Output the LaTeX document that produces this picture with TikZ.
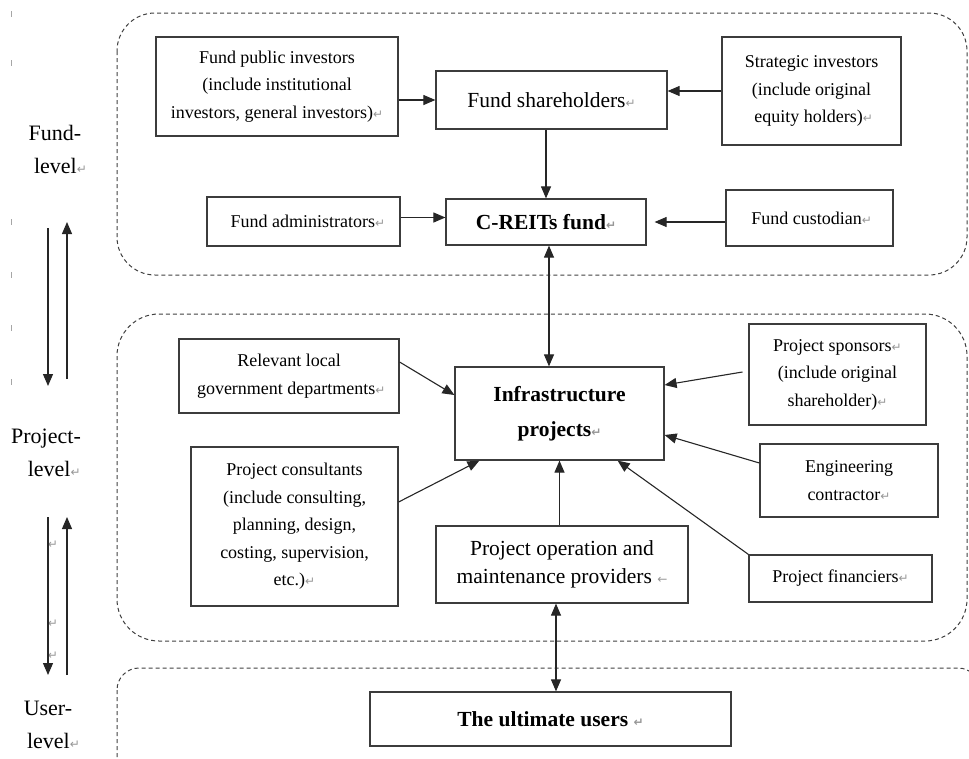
\documentclass[tikz,border=0pt]{standalone}
\usepackage{fontspec}
\setmainfont{Liberation Serif}
\newfontfamily\dejavu{DejaVu Sans}
\usetikzlibrary{arrows.meta,calc}
\definecolor{markgray}{RGB}{150,150,150}
\definecolor{linegray}{RGB}{60,60,60}
\newcommand{\smallf}{\fontsize{18}{27.5}\selectfont}
\newcommand{\bigf}{\fontsize{21.5}{28.5}\selectfont}
\newcommand{\boldf}{\fontsize{21.5}{35}\selectfont\bfseries}
\newcommand{\levelf}{\fontsize{22}{33}\selectfont}
\newcommand{\rmk}{{\color{markgray}\dejavu\fontsize{12}{12}\selectfont ↵}}
\newcommand{\lmk}{{\color{markgray}\dejavu\fontsize{12}{12}\selectfont ←}}
\tikzset{
  box/.style={draw=linegray, line width=1.2pt, inner sep=0pt, align=center, font=\smallf},
  bigbox/.style={box, font=\bigf},
  boldbox/.style={box, font=\boldf},
  lvl/.style={inner sep=0pt, align=center, font=\levelf},
  arr/.style={-{Triangle[length=12pt,width=10pt]}, line width=1.1pt, draw=black!85},
  darr/.style={{Triangle[length=12pt,width=10pt]}-{Triangle[length=12pt,width=10pt]}, line width=1.1pt, draw=black!85},
  region/.style={dash pattern=on 4pt off 3pt, draw=black!75, line width=1pt},
  rtick/.style={draw=black!35, line width=0.8pt},
  pmark/.style={inner sep=0pt}
}
\begin{document}
\begin{tikzpicture}[x=1pt,y=-1pt]
\useasboundingbox (0,0) rectangle (969,758);
\clip (0,0) rectangle (969,758);
% regions
\draw[region, rounded corners=38pt] (117,13) rectangle (967,275);
\draw[region, rounded corners=42pt] (117,314) rectangle (967,641);
\draw[region, rounded corners=22pt] (117,668) rectangle (980,800);
% ruler ticks
\foreach \ty in {14,63,222,275,328,382} \draw[rtick] (11,\ty-3) -- (11,\ty+3);
% fund level
\node[box, minimum width=242pt, minimum height=99pt] (fpi) at (277,86.5) {Fund public investors\\(include institutional\\investors, general investors)\rmk};
\node[bigbox, minimum width=231pt, minimum height=58pt] (fsh) at (551.5,100) {Fund shareholders\rmk};
\node[box, minimum width=179pt, minimum height=108pt] (si) at (811.5,91) {Strategic investors\\(include original\\\ equity holders)\rmk};
\node[box, minimum width=193pt, minimum height=49pt] (fadm) at (303.5,221.5) {\ \ Fund administrators\rmk};
\node[boldbox, minimum width=200pt, minimum height=46pt] (creits) at (546,222) {C-REITs fund\rmk};
\node[box, minimum width=167pt, minimum height=56pt] (fcus) at (809.5,218) {\ Fund custodian\rmk};
% project level
\node[box, minimum width=220pt, minimum height=74pt] (rlg) at (289,376) {Relevant local\\\ government departments\rmk};
\node[boldbox, minimum width=209pt, minimum height=93pt] (infra) at (559.5,413.5) {Infrastructure\\projects\rmk};
\node[box, minimum width=177pt, minimum height=101pt] (ps) at (837.5,374.5) {Project sponsors\rmk\\(include original\\shareholder)\rmk};
\node[box, minimum width=207pt, minimum height=159pt] (pc) at (294.5,526.5) {Project consultants\\(include consulting,\\planning, design,\\costing, supervision,\\etc.)\rmk};
\node[box, minimum width=178pt, minimum height=73pt] (ec) at (849,480.5) {Engineering\\contractor\rmk};
\node[bigbox, minimum width=252pt, minimum height=77pt] (om) at (562,564.5) {Project operation and\\maintenance providers \lmk};
\node[box, minimum width=183pt, minimum height=47pt] (pf) at (840.5,578.5) {Project financiers\rmk};
% user level
\node[boldbox, minimum width=361pt, minimum height=54pt] (users) at (550.5,719) {The ultimate users \rmk};
% level labels
\node[lvl] (lf) at (55,149) {Fund-\\\ \ level\rmk};
\node[lvl] (lp) at (46,452.5) {Project-\\\ \ \ level\rmk};
\node[lvl] (lu) at (48,725) {User-\\\ \ level\rmk};
% paragraph marks by left arrows
\node[pmark] (pm1) at (53,545) {\rmk};
\node[pmark] (pm2) at (53,624) {\rmk};
\node[pmark] (pm3) at (53,656) {\rmk};
% left arrows
\coordinate (d1s) at (48,228);
\coordinate (d1e) at (48,386);
\coordinate (u1s) at (67,379);
\coordinate (u1e) at (67,222);
\coordinate (d2s) at (48,517);
\coordinate (d2e) at (48,675);
\coordinate (u2s) at (67,675);
\coordinate (u2e) at (67,517);
\draw[arr] (d1s) -- (d1e);
\draw[arr] (u1s) -- (u1e);
\draw[arr] (d2s) -- (d2e);
\draw[arr] (u2s) -- (u2e);
% helper coordinates
\coordinate (cx) at ($(creits.south)+(3,0)$);
\coordinate (ox) at ($(om.south)+(-6,0)$);
\coordinate (fa) at ($(fadm.east)+(0,-4)$);
\coordinate (rl) at ($(rlg.east)+(0,-14)$);
\coordinate (pcx) at ($(pc.east)+(0,-24.5)$);
\coordinate (psx) at ($(ps.west)+(0,-3.5)$);
\coordinate (ecx) at ($(ec.west)+(0,-17.5)$);
% fund-level connectors
\draw[arr] (fpi.east |- fsh.west) -- (fsh.west);
\draw[arr] (si.west) -- (si.west -| fsh.east);
\draw[arr] (fsh.south -| creits.north) -- (creits.north);
\draw[arr] (fa) -- (fa -| creits.west);
\draw[arr, shorten >=8pt] (fcus.west |- creits.east) -- (creits.east);
\draw[darr] (cx) -- (cx |- infra.north);
% project-level connectors
\draw[arr] (rl) -- ($(infra.west)+(0,-18.5)$);
\draw[arr] (pcx) -- ($(infra.south west)+(25,0)$);
\draw[arr, shorten <=6pt] (psx) -- ($(infra.east)+(0,-28.5)$);
\draw[arr] (ecx) -- ($(infra.east)+(0,21.5)$);
\draw[arr] (pf.north west) -- ($(infra.south east)+(-47,0)$);
\draw[arr] (om.north -| infra.south) -- (infra.south);
\draw[darr] (ox) -- (ox |- users.north);
\end{tikzpicture}
\end{document}
